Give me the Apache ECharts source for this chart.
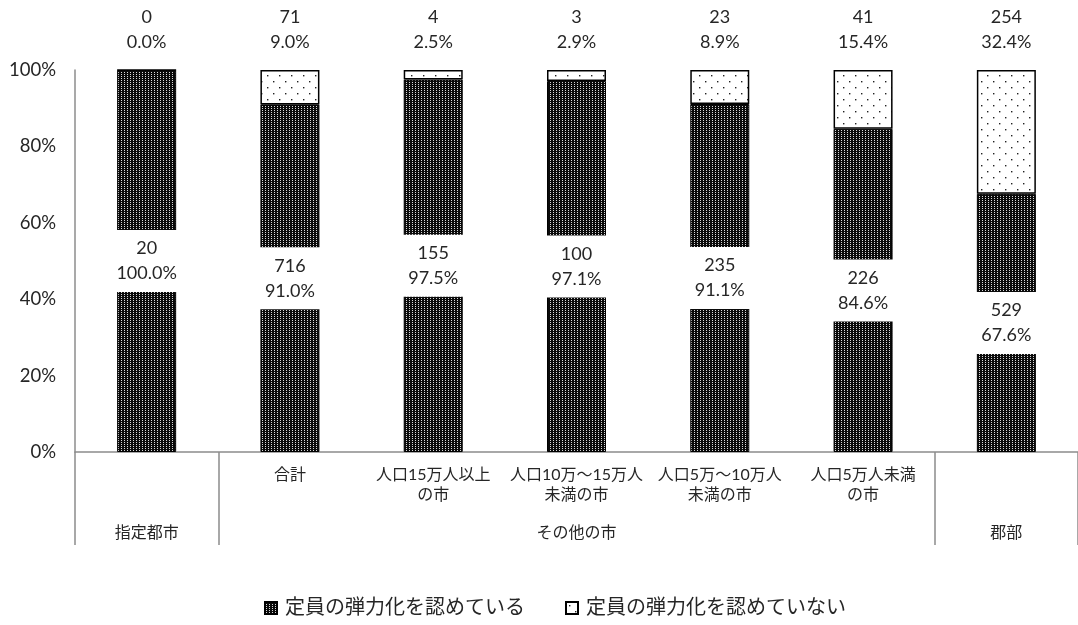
<!DOCTYPE html>
<html>
<head>
<meta charset="utf-8">
<script src="https://cdn.jsdelivr.net/npm/echarts@6/dist/echarts.min.js"></script>
<style>
  html, body { margin: 0; padding: 0; background: #fff; }
  #chart { width: 1078px; height: 625px; }
</style>
</head>
<body>
<div id="chart"></div>
<script>
// Category labels (first row) and group labels (second row)
const categories = ['', '合計', '人口15万人以上\nの市', '人口10万～15万人\n未満の市', '人口5万～10万人\n未満の市', '人口5万人未満\nの市', ''];
const groupLabels = ['指定都市', '', '', 'その他の市', '', '', '郡部'];

// Counts and shares per category
const countYes = [20, 716, 155, 100, 235, 226, 529];
const countNo = [0, 71, 4, 3, 23, 41, 254];
const pctYes = [100.0, 91.0, 97.5, 97.1, 91.1, 84.6, 67.6];
const pctNo = [0.0, 9.0, 2.5, 2.9, 8.9, 15.4, 32.4];

const seriesNames = ['定員の弾力化を認めている', '定員の弾力化を認めていない'];
const yTicks = [0, 20, 40, 60, 80, 100];

const FONT = 'Lato, "Noto Sans CJK JP", sans-serif';
const TEXT = '#262626';
const AXIS = '#8c8c8c';

// Dense dark fill: black with fine white dots
function darkPattern() {
  const c = document.createElement('canvas');
  c.width = 3; c.height = 2;
  const g = c.getContext('2d');
  g.fillStyle = '#0a0a0a';
  g.fillRect(0, 0, 3, 2);
  g.fillStyle = '#d8d8d8';
  g.fillRect(1, 0, 1, 1);
  return c;
}
// Light fill: white with sparse black dots
function lightPattern() {
  const c = document.createElement('canvas');
  c.width = 12; c.height = 12;
  const g = c.getContext('2d');
  g.fillStyle = '#ffffff';
  g.fillRect(0, 0, 12, 12);
  g.fillStyle = '#222';
  g.fillRect(3, 3, 1.4, 1.4);
  g.fillRect(9, 9, 1.4, 1.4);
  return c;
}

const chart = echarts.init(document.getElementById('chart'), null, { renderer: 'canvas' });

const option = {
  animation: false,
  backgroundColor: '#fff',
  textStyle: { fontFamily: FONT },
  grid: { left: 75, right: 0, top: 70, bottom: 173, containLabel: false },
  legend: {
    bottom: 2,
    left: 259,
    itemWidth: 12,
    itemHeight: 12,
    itemGap: 40,
    icon: 'rect',
    textStyle: { fontFamily: FONT, fontSize: 20, color: TEXT, padding: [0, 0, 0, 3] },
    data: seriesNames
  },
  xAxis: [
    {
      type: 'category',
      data: categories,
      position: 'bottom',
      axisLine: { show: true, lineStyle: { color: AXIS, width: 1.5 } },
      axisTick: { show: false },
      axisLabel: {
        interval: 0, margin: 13, fontSize: 16, lineHeight: 20, color: TEXT, fontFamily: FONT
      }
    },
    {
      type: 'category',
      data: groupLabels,
      position: 'bottom',
      axisLine: { show: false },
      axisTick: {
        show: true,
        length: 93,
        lineStyle: { color: AXIS, width: 1.5 },
        interval: function (i) { return i === 0 || i === 1 || i === 6; }
      },
      axisLabel: {
        interval: 0, margin: 71, fontSize: 16, lineHeight: 20, color: TEXT, fontFamily: FONT
      }
    }
  ],
  yAxis: {
    type: 'value',
    min: yTicks[0],
    max: yTicks[yTicks.length - 1],
    interval: 20,
    axisLine: { show: true, lineStyle: { color: AXIS, width: 1.5 } },
    axisTick: { show: false },
    splitLine: { show: false },
    axisLabel: { formatter: '{value}%', fontSize: 18.5, color: TEXT, margin: 19, fontFamily: FONT }
  },
  series: [
    {
      name: seriesNames[0],
      type: 'bar',
      stack: 'total',
      xAxisIndex: 0,
      barWidth: 59,
      data: pctYes,
      itemStyle: {
        color: { image: darkPattern(), repeat: 'repeat' },
        borderColor: '#000',
        borderWidth: 1
      },
      label: {
        show: true,
        position: 'inside',
        formatter: function (p) {
          return countYes[p.dataIndex] + '\n' + pctYes[p.dataIndex].toFixed(1) + '%';
        },
        backgroundColor: '#fff',
        width: 70,
        align: 'center',
        padding: [6, 0, 6, 0],
        fontSize: 18,
        lineHeight: 25,
        color: TEXT,
        fontFamily: FONT
      }
    },
    {
      name: seriesNames[1],
      type: 'bar',
      stack: 'total',
      xAxisIndex: 0,
      barWidth: 59,
      data: pctNo,
      itemStyle: {
        color: { image: lightPattern(), repeat: 'repeat' },
        borderColor: '#000',
        borderWidth: 1.5
      },
      label: {
        show: true,
        position: 'top',
        distance: 15,
        formatter: function (p) {
          return countNo[p.dataIndex] + '\n' + pctNo[p.dataIndex].toFixed(1) + '%';
        },
        fontSize: 18,
        lineHeight: 25,
        color: TEXT,
        fontFamily: FONT
      }
    }
  ]
};

chart.setOption(option);
</script>
</body>
</html>
